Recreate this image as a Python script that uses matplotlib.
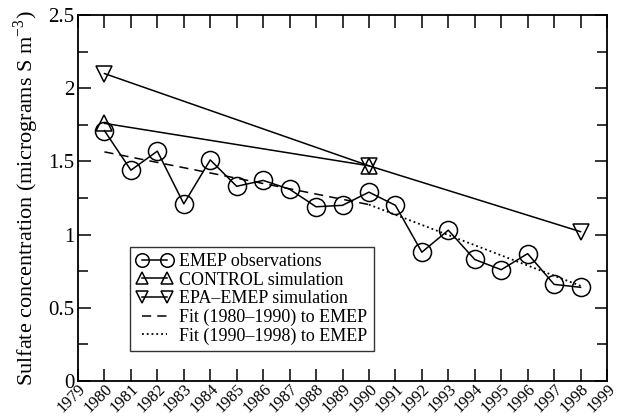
import matplotlib
matplotlib.use('Agg')
import matplotlib.pyplot as plt
import matplotlib.transforms as mtransforms
from matplotlib.ticker import MultipleLocator

plt.rcParams['font.family'] = ['Liberation Serif', 'DejaVu Serif']
plt.rcParams['mathtext.fontset'] = 'custom'
plt.rcParams['mathtext.rm'] = 'Liberation Serif'

# EMEP observations
years = list(range(1980, 1999))
emep = [1.71, 1.44, 1.57, 1.21, 1.51, 1.33, 1.37, 1.31, 1.19, 1.20,
        1.29, 1.20, 0.88, 1.03, 0.83, 0.76, 0.87, 0.66, 0.64]

# model simulations
control_years = [1980, 1990]
control = [1.76, 1.47]
epa_years = [1980, 1990, 1998]
epa = [2.10, 1.47, 1.02]

# linear fits
fit1_years = [1980, 1990]
fit1 = [1.565, 1.205]
fit2_years = [1990, 1998]
fit2 = [1.205, 0.65]

xticks = list(range(1979, 2000))

fig = plt.figure(figsize=(6.22, 4.19), dpi=100)
ax = fig.add_axes([78/622, 1 - 381/419, 529/622, 366/419])

ax.plot(years, emep, 'k-', marker='o', ms=13, mfc='none', mew=1.1, lw=1.1,
        label='EMEP observations')
ax.plot(control_years, control, 'k-', marker='^', ms=12, mfc='none', mew=1.1, lw=1.1,
        label='CONTROL simulation')
ax.plot(epa_years, epa, 'k-', marker='v', ms=12, mfc='none', mew=1.1, lw=1.1,
        label='EPA\u2013EMEP simulation')
ax.plot(fit1_years, fit1, 'k--', lw=1.1, dashes=(6, 4), label='Fit (1980\u20131990) to EMEP')
ax.plot(fit2_years, fit2, 'k:', lw=1.3, label='Fit (1990\u20131998) to EMEP')

ax.set_xlim(1979, 1999)
ax.set_ylim(0, 2.5)
ax.set_xticks(xticks)
ax.set_xticklabels([str(y) for y in xticks], rotation=45, ha='right',
                   rotation_mode='anchor', fontsize=12)
shift = mtransforms.ScaledTranslation(7/100, 0, fig.dpi_scale_trans)
for lab in ax.get_xticklabels():
    lab.set_transform(lab.get_transform() + shift)
ax.yaxis.set_minor_locator(MultipleLocator(0.25))
ax.set_yticks([0, 0.5, 1, 1.5, 2, 2.5])
ax.set_yticklabels(['0', '0.5', '1', '1.5', '2', '2.5'], fontsize=15)
ax.tick_params(direction='in', top=True, right=True, which='both', width=1.1)
ax.tick_params(which='major', length=9)
ax.tick_params(which='minor', length=7)
ax.tick_params(axis='x', pad=0)
ax.tick_params(axis='y', pad=2.5)
for s in ax.spines.values():
    s.set_linewidth(1.3)

ax.set_ylabel('Sulfate concentration (micrograms S m$^{-3}$)', fontsize=16, labelpad=5)

leg = ax.legend(loc='lower left', bbox_to_anchor=(0.098, 0.082), numpoints=2,
                handlelength=2.0, markerscale=0.75, fontsize=13, frameon=True,
                fancybox=False, edgecolor='black', borderpad=0.35, labelspacing=0.08,
                handletextpad=0.4, borderaxespad=0)
leg.get_frame().set_linewidth(1.0)

fig.savefig('out.png', dpi=100)
